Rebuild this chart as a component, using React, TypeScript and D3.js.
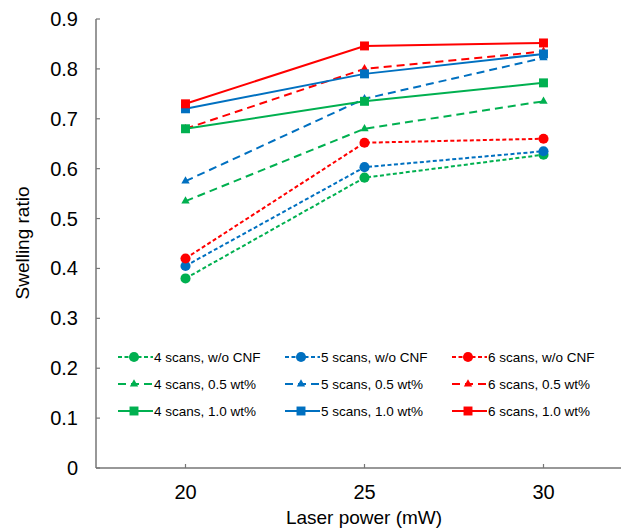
import { useEffect, useRef } from 'react';
import * as d3 from 'd3';

const powers = [20, 25, 30];

// swelling ratio per laser power
const scans4NoCnf = [0.38, 0.582, 0.628];
const scans5NoCnf = [0.405, 0.603, 0.635];
const scans6NoCnf = [0.42, 0.652, 0.66];
const scans4Half = [0.535, 0.68, 0.735];
const scans5Half = [0.575, 0.74, 0.822];
const scans6Half = [0.68, 0.8, 0.835];
const scans4One = [0.68, 0.735, 0.772];
const scans5One = [0.72, 0.79, 0.83];
const scans6One = [0.73, 0.846, 0.852];

const yTicks = [0, 0.1, 0.2, 0.3, 0.4, 0.5, 0.6, 0.7, 0.8, 0.9];

const GREEN = '#00B050';
const BLUE = '#0070C0';
const RED = '#FF0000';

type Kind = 'none' | 'half' | 'one';

const series: { label: string; values: number[]; color: string; kind: Kind }[] = [
  { label: '4 scans, w/o CNF', values: scans4NoCnf, color: GREEN, kind: 'none' },
  { label: '5 scans, w/o CNF', values: scans5NoCnf, color: BLUE, kind: 'none' },
  { label: '6 scans, w/o CNF', values: scans6NoCnf, color: RED, kind: 'none' },
  { label: '4 scans, 0.5 wt%', values: scans4Half, color: GREEN, kind: 'half' },
  { label: '5 scans, 0.5 wt%', values: scans5Half, color: BLUE, kind: 'half' },
  { label: '6 scans, 0.5 wt%', values: scans6Half, color: RED, kind: 'half' },
  { label: '4 scans, 1.0 wt%', values: scans4One, color: GREEN, kind: 'one' },
  { label: '5 scans, 1.0 wt%', values: scans5One, color: BLUE, kind: 'one' },
  { label: '6 scans, 1.0 wt%', values: scans6One, color: RED, kind: 'one' },
];

const dashOf = (k: Kind) => (k === 'none' ? '4,2.5' : k === 'half' ? '8,5' : null);
const symbolOf = (k: Kind) =>
  k === 'none'
    ? d3.symbol(d3.symbolCircle, 80)
    : k === 'half'
    ? d3.symbol(d3.symbolTriangle, 30)
    : d3.symbol(d3.symbolSquare, 80);

const App = () => {
  const ref = useRef<SVGSVGElement>(null!);

  useEffect(() => {
    const width = 621;
    const height = 529;
    const font = 'Arial, "Liberation Sans", sans-serif';
    const axisColor = '#767676';

    const x = d3.scaleLinear().domain([17.5, 32.5]).range([96, 633]);
    const y = d3.scaleLinear().domain([0, 0.9]).range([468, 19]);

    const svg = d3.select(ref.current).attr('width', width).attr('height', height);
    svg.selectAll('*').remove();

    // axes
    const g = svg.append('g');
    g.append('line')
      .attr('x1', x(17.5)).attr('x2', x(17.5))
      .attr('y1', y(0)).attr('y2', y(0.9))
      .attr('stroke', axisColor).attr('stroke-width', 1.5);
    g.append('line')
      .attr('x1', x(17.5)).attr('x2', width)
      .attr('y1', y(0)).attr('y2', y(0))
      .attr('stroke', axisColor).attr('stroke-width', 1.5);

    yTicks.forEach(t => {
      g.append('line')
        .attr('x1', x(17.5)).attr('x2', x(17.5) + 4)
        .attr('y1', y(t)).attr('y2', y(t))
        .attr('stroke', axisColor).attr('stroke-width', 1.2);
      g.append('text')
        .attr('x', 78).attr('y', y(t))
        .attr('dy', '0.35em')
        .attr('text-anchor', 'end')
        .attr('font-family', font).attr('font-size', 20)
        .attr('fill', '#000')
        .text(t === 0 ? '0' : d3.format('.1f')(t));
    });

    powers.forEach(p => {
      g.append('line')
        .attr('x1', x(p)).attr('x2', x(p))
        .attr('y1', y(0)).attr('y2', y(0) - 4)
        .attr('stroke', axisColor).attr('stroke-width', 1.2);
      g.append('text')
        .attr('x', x(p)).attr('y', 499)
        .attr('text-anchor', 'middle')
        .attr('font-family', font).attr('font-size', 20)
        .attr('fill', '#000')
        .text(p);
    });

    svg.append('text')
      .attr('x', 364).attr('y', 524)
      .attr('text-anchor', 'middle')
      .attr('font-family', font).attr('font-size', 19)
      .text('Laser power (mW)');

    svg.append('text')
      .attr('transform', 'translate(29,243) rotate(-90)')
      .attr('text-anchor', 'middle')
      .attr('font-family', font).attr('font-size', 19)
      .text('Swelling ratio');

    // series lines
    const line = d3.line<number>()
      .x((_, i) => x(powers[i]))
      .y(d => y(d));

    series.forEach(s => {
      const dash = dashOf(s.kind);
      svg.append('path')
        .attr('d', line(s.values))
        .attr('fill', 'none')
        .attr('stroke', s.color)
        .attr('stroke-width', 2)
        .attr('stroke-dasharray', dash);
      svg.append('g')
        .selectAll('path')
        .data(s.values)
        .enter()
        .append('path')
        .attr('d', symbolOf(s.kind)()!)
        .attr('transform', (d, i) => `translate(${x(powers[i])},${y(d)})`)
        .attr('fill', s.color);
    });

    // legend
    const colX = [118, 285, 452];
    const rowY = [357, 384, 411];
    series.forEach((s, i) => {
      const cx = colX[i % 3];
      const cy = rowY[Math.floor(i / 3)];
      const lg = svg.append('g').attr('transform', `translate(${cx},${cy})`);
      lg.append('line')
        .attr('x1', 0).attr('x2', 35)
        .attr('y1', 0).attr('y2', 0)
        .attr('stroke', s.color)
        .attr('stroke-width', 2)
        .attr('stroke-dasharray', dashOf(s.kind));
      lg.append('path')
        .attr('d', symbolOf(s.kind)()!)
        .attr('transform', 'translate(16,0)')
        .attr('fill', s.color);
      lg.append('text')
        .attr('x', 36).attr('y', 0)
        .attr('dy', '0.35em')
        .attr('font-family', font).attr('font-size', 13.5)
        .attr('fill', '#000')
        .text(s.label);
    });
  }, []);

  return (
    <svg
      ref={ref}
      style={{ position: 'absolute', left: 0, top: 0, background: '#fff' }}
    ></svg>
  );
};

export default App;
